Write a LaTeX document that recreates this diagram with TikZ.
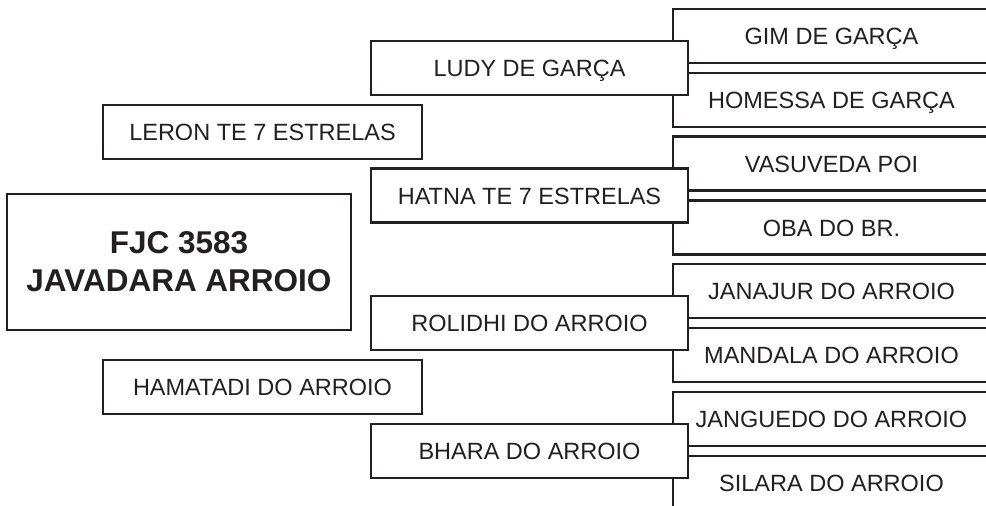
\documentclass[tikz,border=0pt]{standalone}
\usepackage{fontspec}
\setmainfont{Liberation Sans}
\definecolor{ink}{HTML}{231F20}

\begin{document}
\begin{tikzpicture}[x=1pt,y=-1pt,
	box/.style={draw=ink,line width=2.8pt,fill=white,text=ink,inner sep=0pt,
		minimum width=317pt,minimum height=54pt,text height=17pt,text depth=0pt,
		font=\fontsize{23.5}{28}\selectfont},
	outer/.style={box,minimum width=319pt},
	main/.style={box,minimum width=344pt,minimum height=136pt,text height=,text depth=,
		align=center,font=\bfseries\fontsize{31.5}{38}\selectfont}]
	\useasboundingbox (0,0) rectangle (986,506);
	\node [main] (fjc) at (179,262) {FJC 3583\\JAVADARA ARROIO};
	\node [outer] (leron) at (262.5,132) {LERON TE 7 ESTRELAS};
	\node [outer] (hamatadi) at (262.5,387) {HAMATADI DO ARROIO};
	\foreach \n/\y/\nome/\pai/\mae in {ludy/68/LUDY DE GARÇA/GIM DE GARÇA/HOMESSA DE GARÇA,
		hatna/195.5/HATNA TE 7 ESTRELAS/VASUVEDA POI/OBA DO BR.,
		rolidhi/323/ROLIDHI DO ARROIO/JANAJUR DO ARROIO/MANDALA DO ARROIO,
		bhara/451/BHARA DO ARROIO/JANGUEDO DO ARROIO/SILARA DO ARROIO}{
		\node [box] (\n-pai) at (831.5,\y-32) {\pai};
		\node [box] (\n-mae) at (831.5,\y+32) {\mae};
		\node [box] (\n) at (529.5,\y) {\nome};% covers the left edges
	}
\end{tikzpicture}
\end{document}
